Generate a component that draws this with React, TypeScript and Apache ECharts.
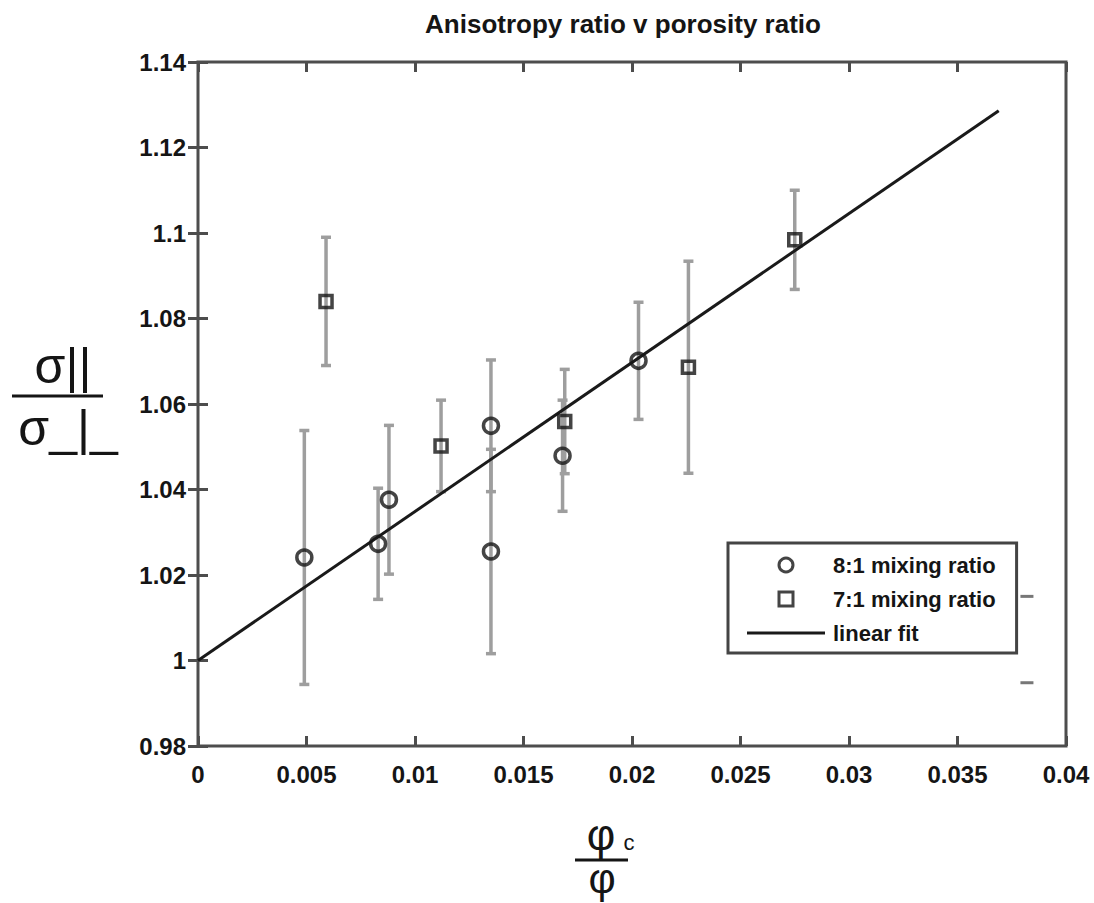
import React, { useEffect, useRef } from "react";
import * as echarts from "echarts";

// ---- data ----
const circleX = [0.0049, 0.0083, 0.0088, 0.0135, 0.0135, 0.0168, 0.0203];
const circleY = [1.0241, 1.0273, 1.0376, 1.0549, 1.0255, 1.0479, 1.0701];
const circleErr = [0.0297, 0.013, 0.0174, 0.0154, 0.0239, 0.013, 0.0137];

const squareX = [0.0059, 0.0112, 0.0169, 0.0226, 0.0275];
const squareY = [1.084, 1.0502, 1.0559, 1.0686, 1.0984];
const squareErr = [0.015, 0.0107, 0.0122, 0.0248, 0.0116];

const fitX = [0, 0.0369];
const fitY = [1.0, 1.1286];

const strayCapX = [0.0382, 0.0382];
const strayCapY = [1.015, 0.9948];

const xMin = 0;
const xMax = 0.04;
const xStep = 0.005;
const yMin = 0.98;
const yMax = 1.14;
const yStep = 0.02;

const titleText = "Anisotropy ratio v porosity ratio";
const circleName = "8:1 mixing ratio";
const squareName = "7:1 mixing ratio";
const fitName = "linear fit";

const FONT = '"Liberation Sans", Arial, Helvetica, sans-serif';
const AXIS_COLOR = "#4d4d4d";
const INK = "#151515";
const ERR_COLOR = "#9e9e9e";

export default function App() {
  const ref = useRef<HTMLDivElement>(null);

  useEffect(() => {
    if (!ref.current) return;
    const chart = echarts.init(ref.current, undefined, { renderer: "svg" });

    const errData = [
      ...circleX.map((x, i) => [x, circleY[i] - circleErr[i], circleY[i] + circleErr[i]]),
      ...squareX.map((x, i) => [x, squareY[i] - squareErr[i], squareY[i] + squareErr[i]]),
    ];

    const tickCommon = {
      show: true,
      inside: true,
      length: 10,
      lineStyle: { color: AXIS_COLOR, width: 3 },
    };

    const xFmt = (v: number) => String(parseFloat(v.toFixed(3)));
    const yFmt = (v: number) => String(parseFloat(v.toFixed(2)));

    const option: any = {
      animation: false,
      backgroundColor: "#ffffff",
      grid: {
        left: 198,
        right: 28,
        top: 62,
        bottom: 157,
        show: true,
        borderColor: AXIS_COLOR,
        borderWidth: 3,
        backgroundColor: "transparent",
      },
      xAxis: [
        {
          type: "value",
          position: "bottom",
          min: xMin,
          max: xMax,
          interval: xStep,
          axisLine: { show: false },
          axisTick: tickCommon,
          splitLine: { show: false },
          axisLabel: {
            formatter: xFmt,
            fontFamily: FONT,
            fontSize: 24,
            fontWeight: "bold",
            color: INK,
            margin: 16,
          },
        },
        {
          type: "value",
          position: "top",
          min: xMin,
          max: xMax,
          interval: xStep,
          axisLine: { show: false },
          axisTick: tickCommon,
          splitLine: { show: false },
          axisLabel: { show: false },
        },
      ],
      yAxis: [
        {
          type: "value",
          position: "left",
          min: yMin,
          max: yMax,
          interval: yStep,
          axisLine: { show: false },
          axisTick: tickCommon,
          splitLine: { show: false },
          axisLabel: {
            formatter: yFmt,
            fontFamily: FONT,
            fontSize: 24,
            fontWeight: "bold",
            color: INK,
            margin: 12,
          },
        },
        {
          type: "value",
          position: "right",
          min: yMin,
          max: yMax,
          interval: yStep,
          axisLine: { show: false },
          axisTick: tickCommon,
          splitLine: { show: false },
          axisLabel: { show: false },
        },
      ],
      legend: {
        orient: "vertical",
        left: 728,
        top: 543,
        padding: [11, 21, 9, 19],
        itemWidth: 78,
        itemHeight: 14,
        itemGap: 12,
        borderColor: "#444444",
        borderWidth: 3,
        borderRadius: 0,
        backgroundColor: "#ffffff",
        symbolKeepAspect: true,
        textStyle: {
          fontFamily: FONT,
          fontSize: 22,
          fontWeight: "bold",
          color: INK,
          lineHeight: 22,
          padding: [0, 0, 0, 3],
        },
        data: [
          {
            name: circleName,
            icon: "circle",
            itemStyle: { color: "transparent", borderColor: INK, borderWidth: 3 },
          },
          {
            name: squareName,
            icon: "path://M0,0H10V10H0Z",
            itemStyle: { color: "transparent", borderColor: INK, borderWidth: 3 },
          },
          {
            name: fitName,
            icon: "path://M0,0H78V3H0Z",
            itemStyle: { color: "#1a1a1a", borderWidth: 0 },
          },
        ],
        selectedMode: false,
      },
      series: [
        {
          type: "custom",
          name: "error",
          xAxisIndex: 0,
          yAxisIndex: 0,
          z: 1,
          encode: { x: 0, y: [1, 2] },
          data: errData,
          renderItem: (params: any, api: any) => {
            const x = api.value(0);
            const lo = api.coord([x, api.value(1)]);
            const hi = api.coord([x, api.value(2)]);
            const w = 5;
            const style = { stroke: ERR_COLOR, lineWidth: 3.5, fill: "none" };
            return {
              type: "group",
              children: [
                { type: "line", shape: { x1: lo[0], y1: lo[1], x2: hi[0], y2: hi[1] }, style },
                { type: "line", shape: { x1: lo[0] - w, y1: lo[1], x2: lo[0] + w, y2: lo[1] }, style },
                { type: "line", shape: { x1: hi[0] - w, y1: hi[1], x2: hi[0] + w, y2: hi[1] }, style },
              ],
            };
          },
        },
        {
          type: "line",
          name: fitName,
          z: 2,
          data: fitX.map((x, i) => [x, fitY[i]]),
          symbol: "none",
          showSymbol: false,
          lineStyle: { color: "#1a1a1a", width: 3 },
          itemStyle: { color: "#1a1a1a" },
        },
        {
          type: "scatter",
          name: circleName,
          z: 3,
          data: circleX.map((x, i) => [x, circleY[i]]),
          symbol: "circle",
          symbolSize: 15,
          itemStyle: { color: "transparent", borderColor: INK, borderWidth: 3.5 },
        },
        {
          type: "scatter",
          name: squareName,
          z: 3,
          data: squareX.map((x, i) => [x, squareY[i]]),
          symbol: "rect",
          symbolSize: 12,
          itemStyle: { color: "transparent", borderColor: INK, borderWidth: 3.5 },
        },
        {
          type: "scatter",
          name: "caps",
          z: 3,
          data: strayCapX.map((x, i) => [x, strayCapY[i]]),
          symbol: "rect",
          symbolSize: [13, 3],
          itemStyle: { color: "#555555" },
        },
      ],
      graphic: [
        {
          type: "text",
          x: 623,
          y: 24,
          style: {
            text: titleText,
            font: `bold 26px ${FONT}`,
            fill: INK,
            align: "center",
            verticalAlign: "middle",
          },
        },
        // y-axis name: sigma-parallel over sigma-perpendicular
        {
          type: "text",
          x: 63,
          y: 366,
          style: { text: "σ||", font: `50px ${FONT}`, fill: INK, align: "center", verticalAlign: "middle" },
        },
        {
          type: "line",
          shape: { x1: 12, y1: 396, x2: 103, y2: 396 },
          style: { stroke: INK, lineWidth: 3 },
        },
        {
          type: "text",
          x: 68,
          y: 428,
          style: { text: "σ_|_", font: `50px ${FONT}`, fill: INK, align: "center", verticalAlign: "middle" },
        },
        // x-axis name: phi_c over phi
        {
          type: "text",
          x: 601,
          y: 834,
          style: { text: "φ", font: `44px ${FONT}`, fill: INK, align: "center", verticalAlign: "middle" },
        },
        {
          type: "text",
          x: 629,
          y: 842,
          style: { text: "c", font: `22px ${FONT}`, fill: INK, align: "center", verticalAlign: "middle" },
        },
        {
          type: "line",
          shape: { x1: 575, y1: 860, x2: 628, y2: 860 },
          style: { stroke: INK, lineWidth: 3 },
        },
        {
          type: "text",
          x: 602,
          y: 878,
          style: { text: "φ", font: `42px ${FONT}`, fill: INK, align: "center", verticalAlign: "middle" },
        },
      ],
    };

    chart.setOption(option);
    return () => chart.dispose();
  }, []);

  return (
    <div
      ref={ref}
      style={{ position: "absolute", left: 0, top: 0, width: 1094, height: 903 }}
    />
  );
}
